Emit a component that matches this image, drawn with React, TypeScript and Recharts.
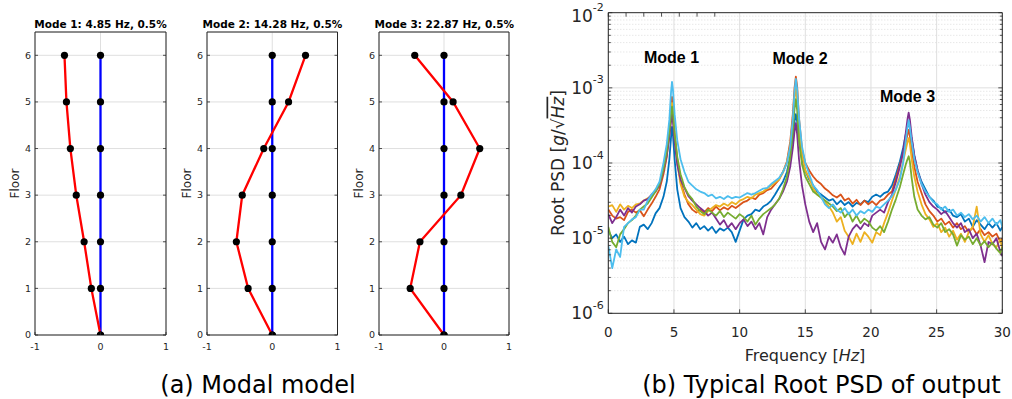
import React from 'react';
import { LineChart, Line, XAxis, YAxis, CartesianGrid, ReferenceLine } from 'recharts';

// ---- modal model (a) ----
const floors = [0, 1, 2, 3, 4, 5, 6];
const mode1 = [0, -0.14, -0.25, -0.37, -0.46, -0.52, -0.55];
const mode2 = [0, -0.37, -0.55, -0.46, -0.13, 0.25, 0.51];
const mode3 = [0, -0.52, -0.37, 0.26, 0.55, 0.14, -0.45];
const modeTitles = ['Mode 1: 4.85 Hz, 0.5%', 'Mode 2: 14.28 Hz, 0.5%', 'Mode 3: 22.87 Hz, 0.5%'];
const modeXTicks = [-1, 0, 1];

// ---- root PSD (b), values are log10 of g/sqrt(Hz) ----
const freq = [
  0, 0.3, 0.6, 0.9, 1.2, 1.5, 1.8, 2.1, 2.4, 2.7, 3.0, 3.3, 3.6, 3.9,
  4.2, 4.45, 4.65, 4.78, 4.85, 4.92, 5.05, 5.25, 5.5, 5.8,
  6.1, 6.4, 6.7, 7.0, 7.3, 7.6, 7.9, 8.2, 8.5, 8.8, 9.1, 9.4, 9.7, 10.0, 10.3, 10.6, 10.9, 11.2, 11.5, 11.8, 12.1, 12.4, 12.7, 13.0,
  13.3, 13.6, 13.85, 14.05, 14.18, 14.28, 14.38, 14.52, 14.75, 15.0, 15.3,
  15.6, 15.9, 16.2, 16.5, 16.8, 17.1, 17.4, 17.7, 18.0, 18.3, 18.6, 18.9, 19.2, 19.5, 19.8, 20.1, 20.4, 20.7, 21.0, 21.3, 21.6,
  21.9, 22.2, 22.45, 22.65, 22.78, 22.87, 22.96, 23.1, 23.3, 23.55, 23.85,
  24.15, 24.45, 24.75, 25.05, 25.35, 25.65, 25.95, 26.25, 26.55, 26.85, 27.15, 27.45, 27.75, 28.05, 28.35, 28.65, 28.95, 29.25, 29.55, 29.85, 30,
];
const psdBlue = [
  -4.90, -5.00, -4.95, -5.05, -4.98, -5.08, -5.03, -5.06, -4.85, -4.82, -4.88, -4.80, -4.67, -4.60,
  -4.45, -4.25, -3.95, -3.65, -3.52, -3.62, -3.95, -4.35, -4.60, -4.72,
  -4.78, -4.86, -4.80, -4.88, -4.84, -4.90, -4.85, -4.93, -4.87, -4.90, -4.86, -4.92, -5.05, -4.90, -4.75, -4.70, -4.68, -4.62, -4.64, -4.58, -4.55, -4.50, -4.42, -4.33,
  -4.25, -4.12, -3.92, -3.65, -3.45, -3.35, -3.45, -3.70, -3.95, -4.10, -4.22,
  -4.30, -4.38, -4.42, -4.46, -4.50, -4.48, -4.55, -4.50, -4.56, -4.52, -4.58, -4.53, -4.55, -4.50, -4.52, -4.45, -4.42, -4.45, -4.40, -4.38, -4.30,
  -4.15, -3.98, -3.80, -3.62, -3.52, -3.45, -3.52, -3.68, -3.90, -4.10, -4.25,
  -4.35, -4.45, -4.50, -4.58, -4.60, -4.66, -4.62, -4.70, -4.72, -4.68, -4.78, -4.74, -4.85, -4.76, -4.82, -4.88, -4.80, -4.86, -4.80, -4.90, -4.85,
];
const psdOrange = [
  -4.62, -4.70, -4.74, -4.72, -4.76, -4.65, -4.62, -4.66, -4.63, -4.71, -4.62, -4.54, -4.45, -4.35,
  -4.15, -3.92, -3.60, -3.25, -3.12, -3.22, -3.58, -3.95, -4.25, -4.42,
  -4.55, -4.62, -4.66, -4.62, -4.66, -4.60, -4.64, -4.58, -4.63, -4.59, -4.62, -4.57, -4.60, -4.56, -4.52, -4.50, -4.46, -4.48, -4.42, -4.40, -4.36, -4.34, -4.28, -4.22,
  -4.12, -3.98, -3.72, -3.35, -3.00, -2.85, -2.98, -3.40, -3.82, -4.00, -4.10,
  -4.18, -4.24, -4.28, -4.34, -4.38, -4.43, -4.46, -4.42, -4.50, -4.47, -4.54, -4.49, -4.56, -4.50, -4.55, -4.51, -4.56, -4.50, -4.48, -4.42, -4.38,
  -4.20, -4.02, -3.88, -3.72, -3.62, -3.56, -3.64, -3.82, -4.05, -4.25, -4.40,
  -4.55, -4.64, -4.70, -4.78, -4.74, -4.82, -4.78, -4.86, -4.80, -4.88, -4.84, -4.92, -4.86, -4.95, -4.88, -4.96, -4.92, -4.98, -4.94, -5.05, -5.00,
];
const psdYellow = [
  -4.58, -4.56, -4.65, -4.55, -4.62, -4.57, -4.60, -4.55, -4.54, -4.50, -4.47, -4.44, -4.36, -4.28,
  -4.08, -3.88, -3.60, -3.32, -3.20, -3.30, -3.65, -4.00, -4.28, -4.45,
  -4.52, -4.56, -4.62, -4.68, -4.70, -4.64, -4.60, -4.56, -4.58, -4.54, -4.57, -4.52, -4.55, -4.50, -4.48, -4.45, -4.47, -4.42, -4.40, -4.38, -4.34, -4.30, -4.26, -4.22,
  -4.12, -4.00, -3.78, -3.45, -3.15, -3.00, -3.15, -3.52, -3.90, -4.10, -4.20,
  -4.34, -4.42, -4.46, -4.52, -4.58, -4.66, -4.78, -4.72, -4.90, -4.98, -5.08, -4.94, -5.05, -4.92, -4.98, -5.06, -4.92, -4.96, -4.80, -4.66, -4.50,
  -4.35, -4.18, -3.98, -3.82, -3.72, -3.67, -3.74, -3.95, -4.18, -4.38, -4.55,
  -4.68, -4.75, -4.85, -4.80, -4.92, -4.86, -4.98, -4.90, -5.02, -4.94, -5.05, -4.92, -4.85, -4.58, -4.95, -5.05, -4.96, -5.08, -5.12, -5.02, -5.15,
];
const psdPurple = [
  -4.68, -4.80, -4.72, -4.62, -4.70, -4.60, -4.66, -4.58, -4.55, -4.50, -4.48, -4.42, -4.38, -4.30,
  -4.10, -3.90, -3.65, -3.45, -3.35, -3.45, -3.72, -4.02, -4.22, -4.33,
  -4.44, -4.50, -4.55, -4.60, -4.64, -4.70, -4.66, -4.74, -4.82, -4.76, -4.86, -4.80, -4.88, -4.80, -4.75, -4.84, -4.78, -4.88, -4.80, -4.95, -4.72, -4.62, -4.55, -4.48,
  -4.38, -4.25, -4.05, -3.80, -3.58, -3.47, -3.62, -3.95, -4.30, -4.55, -4.78,
  -4.92, -4.80, -5.05, -5.15, -4.98, -5.06, -4.95, -5.12, -5.22, -4.98, -4.88, -4.82, -4.88, -4.80, -4.84, -4.70, -4.66, -4.62, -4.66, -4.52, -4.42,
  -4.25, -4.05, -3.85, -3.60, -3.42, -3.33, -3.42, -3.65, -3.90, -4.10, -4.28,
  -4.42, -4.52, -4.58, -4.62, -4.68, -4.64, -4.72, -4.80, -4.86, -4.80, -4.92, -4.88, -5.00, -4.94, -5.10, -5.32, -5.05, -5.08, -5.00, -5.18, -5.24,
];
const psdGreen = [
  -4.85, -5.05, -5.12, -4.95, -4.88, -4.80, -4.76, -4.70, -4.62, -4.58, -4.54, -4.46, -4.38, -4.28,
  -4.08, -3.85, -3.58, -3.35, -3.25, -3.33, -3.62, -3.92, -4.15, -4.32,
  -4.42, -4.48, -4.58, -4.64, -4.68, -4.62, -4.66, -4.70, -4.64, -4.72, -4.66, -4.70, -4.74, -4.68, -4.72, -4.78, -4.70, -4.82, -4.74, -4.68, -4.64, -4.60, -4.55, -4.48,
  -4.35, -4.18, -3.92, -3.58, -3.28, -3.15, -3.30, -3.70, -4.02, -4.18, -4.28,
  -4.38, -4.42, -4.46, -4.50, -4.54, -4.58, -4.64, -4.60, -4.72, -4.66, -4.78, -4.70, -4.80, -4.74, -4.78, -4.86, -4.90, -4.84, -4.92, -4.78, -4.62,
  -4.48, -4.32, -4.15, -4.02, -3.95, -3.91, -3.98, -4.20, -4.45, -4.62, -4.70,
  -4.75, -4.72, -4.82, -4.86, -4.80, -4.92, -4.88, -4.95, -5.10, -4.96, -5.02, -4.98, -5.08, -5.00, -5.10, -5.04, -5.12, -5.06, -5.14, -5.20, -5.12,
];
const psdCyan = [
  -5.10, -5.40, -5.15, -5.25, -4.85, -4.80, -4.75, -4.72, -4.62, -4.62, -4.50, -4.42, -4.35, -4.25,
  -4.00, -3.75, -3.42, -3.05, -2.92, -3.02, -3.35, -3.70, -3.95, -4.12,
  -4.25, -4.30, -4.35, -4.38, -4.40, -4.44, -4.42, -4.47, -4.45, -4.48, -4.44, -4.47, -4.45, -4.46, -4.43, -4.40, -4.42, -4.40, -4.37, -4.34, -4.33, -4.28, -4.24, -4.20,
  -4.12, -4.00, -3.78, -3.42, -3.05, -2.88, -3.02, -3.40, -3.78, -4.00, -4.15,
  -4.30, -4.36, -4.45, -4.55, -4.60, -4.55, -4.62, -4.66, -4.60, -4.68, -4.62, -4.70, -4.64, -4.67, -4.62, -4.65, -4.58, -4.60, -4.55, -4.50, -4.44,
  -4.35, -4.22, -4.00, -3.70, -3.52, -3.43, -3.52, -3.72, -3.95, -4.12, -4.28,
  -4.38, -4.45, -4.52, -4.55, -4.62, -4.58, -4.65, -4.62, -4.70, -4.66, -4.72, -4.68, -4.75, -4.70, -4.78, -4.72, -4.80, -4.74, -4.82, -4.76, -4.85,
];
const psdXTicks = [0, 5, 10, 15, 20, 25, 30];
const psdDecades = [1e-6, 1e-5, 1e-4, 1e-3, 1e-2];

const series = [
  { key: 'blue', color: '#0072BD', values: psdBlue },
  { key: 'orange', color: '#D95319', values: psdOrange },
  { key: 'yellow', color: '#EDB120', values: psdYellow },
  { key: 'purple', color: '#7E2F8E', values: psdPurple },
  { key: 'green', color: '#77AC30', values: psdGreen },
  { key: 'cyan', color: '#4DBEEE', values: psdCyan },
];

const psdData = freq.map((f, i) => {
  const row: any = { f };
  series.forEach(s => { row[s.key] = Math.pow(10, s.values[i]); });
  return row;
});

const minorY: number[] = [];
[-6, -5, -4, -3].forEach(n => {
  for (let k = 2; k <= 9; k++) minorY.push(k * Math.pow(10, n));
});
const allY = [...psdDecades, ...minorY].sort((a, b) => a - b);

const FONT = '"DejaVu Sans", sans-serif';
const MFONT = '"Liberation Sans", Arial, sans-serif';
const AX = '#262626';
const GRID = '#dfdfdf';

const isDecade = (v: number) => Math.abs(Math.log10(v) - Math.round(Math.log10(v))) < 1e-6;

// tick renderers (MATLAB style: tick marks point inward)
const ModeYTick = ({ x, y, payload }: any) => (
  <g>
    <line x1={x} y1={y} x2={x + 3} y2={y} stroke={AX} strokeWidth={0.8} />
    <text x={x - 4} y={y + 3.3} textAnchor="end" fontFamily={FONT} fontSize={9.5} fill={AX}>{payload.value}</text>
  </g>
);
const ModeXTick = ({ x, y, payload }: any) => (
  <g>
    <line x1={x} y1={y} x2={x} y2={y - 3} stroke={AX} strokeWidth={0.8} />
    <text x={x} y={y + 15} textAnchor="middle" fontFamily={FONT} fontSize={9.5} fill={AX}>{payload.value}</text>
  </g>
);
const RightTick = (len: number) => ({ x, y }: any) => (
  <line x1={x} y1={y} x2={x - len} y2={y} stroke={AX} strokeWidth={0.8} />
);
const TopTick = (len: number) => ({ x, y }: any) => (
  <line x1={x} y1={y} x2={x} y2={y + len} stroke={AX} strokeWidth={0.8} />
);
const PsdLeftTick = ({ x, y, payload }: any) => {
  const major = isDecade(payload.value);
  const exp = Math.round(Math.log10(payload.value));
  const shift = exp === -2 ? 3 : 0;
  return (
    <g>
      <line x1={x} y1={y} x2={x + (major ? 4 : 2.5)} y2={y} stroke={AX} strokeWidth={0.8} />
      {major && (
        <text x={x - 4.5} y={y + 6 + shift} textAnchor="end" fontFamily={FONT} fontSize={17} fill={AX}>
          10<tspan dy={-10.5} fontSize={11}>{exp}</tspan>
        </text>
      )}
    </g>
  );
};
const PsdRightTick = ({ x, y, payload }: any) => {
  const len = isDecade(payload.value) ? 4 : 2.5;
  return <line x1={x} y1={y} x2={x - len} y2={y} stroke={AX} strokeWidth={0.8} />;
};
const PsdXTick = ({ x, y, payload }: any) => (
  <g>
    <line x1={x} y1={y} x2={x} y2={y - 4} stroke={AX} strokeWidth={0.8} />
    <text x={x} y={y + 23.3} textAnchor="middle" fontFamily={FONT} fontSize={13.5} fill={AX}>{payload.value}</text>
  </g>
);

const plotLefts = [35, 207.2, 379.3];
const plotWidths = [131, 130.5, 130];
const MODE_TOP = 32;
const MODE_BOTTOM = 335;
// every axis is 1px thick, so margins are the plot offsets minus 1
const AXW = 1;

const ModeChart = ({ shape, left, plotW }: any) => {
  const blueData = floors.map(f => ({ x: 0, floor: f }));
  const redData = floors.map((f, i) => ({ x: shape[i], floor: f }));
  const mL = 32;
  const mR = 8;
  return (
    <div style={{ position: 'absolute', left: left - mL, top: 0 }}>
      <LineChart width={plotW + mL + mR} height={399}
        margin={{ top: MODE_TOP - AXW, right: mR - AXW, bottom: 399 - MODE_BOTTOM - AXW, left: mL - AXW }}>
        <CartesianGrid stroke={GRID} strokeWidth={1} />
        <XAxis dataKey="x" type="number" domain={[-1, 1]} ticks={modeXTicks} allowDataOverflow height={AXW}
          tickSize={0} tickMargin={0} tickLine={false} interval={0} tick={ModeXTick} axisLine={{ stroke: AX }} />
        <XAxis xAxisId="top" orientation="top" type="number" domain={[-1, 1]} ticks={modeXTicks} allowDataOverflow height={AXW}
          tickSize={0} tickMargin={0} tickLine={false} interval={0} tick={TopTick(3)} axisLine={{ stroke: AX }} />
        <YAxis dataKey="floor" type="number" domain={[0, 6.5]} ticks={floors} allowDataOverflow width={AXW}
          tickSize={0} tickMargin={0} tickLine={false} interval={0} tick={ModeYTick} axisLine={{ stroke: AX }} />
        <YAxis yAxisId="right" orientation="right" type="number" domain={[0, 6.5]} ticks={floors} allowDataOverflow width={AXW}
          tickSize={0} tickMargin={0} tickLine={false} interval={0} tick={RightTick(3)} axisLine={{ stroke: AX }} />
        <Line data={blueData} dataKey="floor" stroke="#0000FF" strokeWidth={2.3} isAnimationActive={false}
          dot={{ r: 3.6, fill: '#000', stroke: '#000', strokeWidth: 0 }} />
        <Line data={redData} dataKey="floor" stroke="#FF0000" strokeWidth={2.3} isAnimationActive={false}
          dot={{ r: 3.6, fill: '#000', stroke: '#000', strokeWidth: 0 }} />
      </LineChart>
    </div>
  );
};

const PSD_LEFT = 608.3;
const PSD_RIGHT = 1002.3;
const PSD_TOP = 12.7;
const PSD_BOTTOM = 313.3;

const PsdChart = () => {
  const boxL = 540;
  const W = 1012 - boxL;
  return (
    <div style={{ position: 'absolute', left: boxL, top: 0 }}>
      <LineChart width={W} height={399} data={psdData}
        margin={{ top: PSD_TOP - AXW, right: 1012 - PSD_RIGHT - AXW, bottom: 399 - PSD_BOTTOM - AXW, left: PSD_LEFT - boxL - AXW }}>
        <CartesianGrid stroke={GRID} horizontal={false} />
        {minorY.map(v => (
          <ReferenceLine key={'m' + v} y={v} stroke="#d4d4d4" strokeDasharray="1 2" strokeWidth={0.8} />
        ))}
        {psdDecades.slice(1, 4).map(v => (
          <ReferenceLine key={'d' + v} y={v} stroke={GRID} strokeWidth={1} />
        ))}
        <XAxis dataKey="f" type="number" domain={[0, 30]} ticks={psdXTicks} allowDataOverflow height={AXW}
          tickSize={0} tickMargin={0} tickLine={false} interval={0} tick={PsdXTick} axisLine={{ stroke: AX }} />
        <XAxis xAxisId="top" orientation="top" type="number" domain={[0, 30]} ticks={psdXTicks} allowDataOverflow height={AXW}
          tickSize={0} tickMargin={0} tickLine={false} interval={0} tick={TopTick(4)} axisLine={{ stroke: AX }} />
        <YAxis type="number" scale="log" domain={[1e-6, 1e-2]} ticks={allY} allowDataOverflow width={AXW}
          tickSize={0} tickMargin={0} tickLine={false} interval={0} tick={PsdLeftTick} axisLine={{ stroke: AX }} />
        <YAxis yAxisId="right" orientation="right" type="number" scale="log" domain={[1e-6, 1e-2]} ticks={allY} allowDataOverflow width={AXW}
          tickSize={0} tickMargin={0} tickLine={false} interval={0} tick={PsdRightTick} axisLine={{ stroke: AX }} />
        {series.map(s => (
          <Line key={s.key} dataKey={s.key} stroke={s.color} strokeWidth={1.8} dot={false}
            strokeLinejoin="round" isAnimationActive={false} />
        ))}
      </LineChart>
    </div>
  );
};

export default function App() {
  const shapes = [mode1, mode2, mode3];
  const modeMidY = (MODE_TOP + MODE_BOTTOM) / 2;
  return (
    <div style={{ position: 'absolute', left: 0, top: 0, width: 1012, height: 399, background: '#fff', overflow: 'hidden' }}>
      {shapes.map((s, i) => (
        <ModeChart key={i} shape={s} left={plotLefts[i]} plotW={plotWidths[i]} />
      ))}
      <PsdChart />
      <svg width={1012} height={399} style={{ position: 'absolute', left: 0, top: 0, pointerEvents: 'none' }}>
        {modeTitles.map((t, i) => (
          <text key={t} x={plotLefts[i] + plotWidths[i] / 2} y={28} textAnchor="middle"
            fontFamily={FONT} fontWeight="bold" fontSize={10.5} fill="#000">{t}</text>
        ))}
        {plotLefts.map((l, i) => (
          <text key={'fl' + i} transform={`translate(${l - 20.5},${modeMidY}) rotate(-90)`} y={4.3}
            textAnchor="middle" fontFamily={FONT} fontSize={12} fill={AX}>Floor</text>
        ))}
        <text x={671.5} y={62.5} textAnchor="middle" fontFamily={MFONT} fontWeight="bold" fontSize={16} fill="#000">Mode 1</text>
        <text x={800} y={64} textAnchor="middle" fontFamily={MFONT} fontWeight="bold" fontSize={16} fill="#000">Mode 2</text>
        <text x={907.5} y={101.5} textAnchor="middle" fontFamily={MFONT} fontWeight="bold" fontSize={16} fill="#000">Mode 3</text>
        <text transform={`translate(557.5,${(PSD_TOP + PSD_BOTTOM) / 2}) rotate(-90)`} y={6}
          textAnchor="middle" fontFamily={FONT} fontSize={17} fill={AX}>
          Root PSD [<tspan fontStyle="italic">g</tspan>/√<tspan fontStyle="italic" textDecoration="overline">Hz</tspan>]
        </text>
        <text x={805} y={360.5} textAnchor="middle" fontFamily={FONT} fontSize={16} fill={AX}>
          Frequency [<tspan fontStyle="italic">Hz</tspan>]
        </text>
        <text x={258} y={392.5} textAnchor="middle" fontFamily={FONT} fontSize={24} fill="#000">(a) Modal model</text>
        <text x={821.5} y={392.5} textAnchor="middle" fontFamily={FONT} fontSize={24} fill="#000">(b) Typical Root PSD of output</text>
      </svg>
    </div>
  );
}
